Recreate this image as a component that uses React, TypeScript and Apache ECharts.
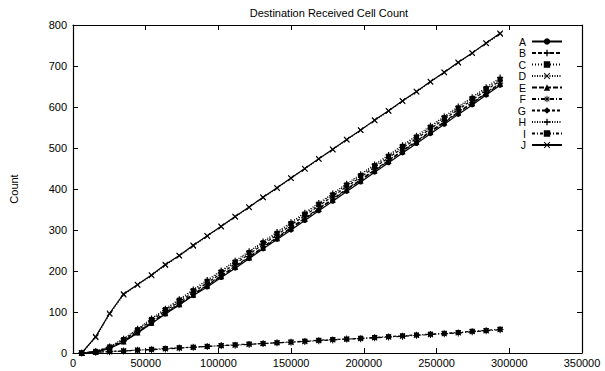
import React, { useEffect, useRef } from "react";
import * as echarts from "echarts";

const times = [6000, 15600, 25200, 34800, 44400, 54000, 63500, 73100, 82700, 92300, 101900, 111500, 121100, 130700, 140300, 149900, 159400, 169000, 178600, 188200, 197800, 207400, 217000, 226600, 236200, 245800, 255300, 264900, 274500, 284100, 293700];

const seriesA = [0, 2, 11, 27, 49, 72, 95, 117, 140, 161, 184, 207, 230, 254, 277, 300, 323, 347, 370, 394, 417, 441, 464, 488, 511, 535, 558, 582, 605, 629, 653];
const seriesB = [0, 3, 12, 29, 51, 75, 99, 121, 144, 166, 189, 212, 235, 259, 282, 306, 329, 353, 376, 400, 423, 447, 470, 494, 517, 541, 564, 588, 611, 635, 658];
const seriesC = [0, 4, 15, 33, 57, 82, 106, 129, 152, 175, 198, 222, 245, 269, 292, 316, 339, 363, 386, 410, 433, 457, 480, 504, 527, 551, 574, 598, 621, 645, 668];
const seriesD = [0, 38, 95, 142, 166, 189, 214, 237, 261, 285, 308, 332, 355, 379, 402, 426, 449, 473, 496, 520, 543, 567, 590, 614, 637, 661, 684, 708, 731, 755, 778];
const seriesE = [0, 3, 12, 28, 50, 74, 97, 119, 142, 164, 187, 210, 233, 257, 280, 304, 327, 351, 374, 398, 421, 445, 468, 492, 515, 539, 562, 586, 609, 633, 656];
const seriesF = [0, 2, 3, 5, 7, 8, 10, 12, 14, 16, 18, 19, 21, 23, 25, 26, 28, 30, 32, 34, 35, 37, 39, 41, 43, 45, 47, 49, 52, 54, 57];
const seriesG = [0, 3, 14, 31, 55, 79, 103, 125, 148, 171, 194, 218, 241, 265, 288, 312, 335, 359, 382, 406, 429, 453, 476, 500, 523, 547, 570, 594, 617, 641, 664];
const seriesH = [0, 4, 16, 35, 59, 84, 108, 131, 155, 178, 201, 225, 248, 272, 295, 319, 342, 366, 389, 413, 436, 460, 483, 507, 530, 554, 577, 601, 624, 648, 672];
const seriesI = [0, 2, 4, 5, 7, 9, 11, 13, 14, 16, 18, 20, 22, 23, 25, 27, 29, 31, 33, 34, 36, 38, 40, 42, 44, 46, 48, 50, 53, 55, 58];
const seriesJ = [0, 40, 97, 144, 167, 190, 216, 238, 263, 286, 309, 333, 356, 380, 403, 427, 450, 474, 497, 521, 544, 568, 591, 615, 638, 662, 685, 709, 732, 756, 780];

const names = ["A", "B", "C", "D", "E", "F", "G", "H", "I", "J"];
const values = [seriesA, seriesB, seriesC, seriesD, seriesE, seriesF, seriesG, seriesH, seriesI, seriesJ];

const PLUS = "path://M4 0H6V4H10V6H6V10H4V6H0V4H4Z";
const CROSS = "path://M1 0L5 4L9 0L10 1L6 5L10 9L9 10L5 6L1 10L0 9L4 5L0 1Z";
const STAR = "path://M4.3 0H5.7V3.3L8.1 0.9L9.1 1.9L6.7 4.3H10V5.7H6.7L9.1 8.1L8.1 9.1L5.7 6.7V10H4.3V6.7L1.9 9.1L0.9 8.1L3.3 5.7H0V4.3H3.3L0.9 1.9L1.9 0.9L4.3 3.3Z";

const styles: { symbol: string; size: number; dash: any }[] = [
  { symbol: "circle", size: 5, dash: "solid" },
  { symbol: PLUS, size: 6, dash: [4, 2] },
  { symbol: "rect", size: 5, dash: [1, 2] },
  { symbol: CROSS, size: 6, dash: [1, 1.5] },
  { symbol: "triangle", size: 6, dash: [5, 2] },
  { symbol: STAR, size: 7, dash: [4, 2, 1, 2] },
  { symbol: "diamond", size: 6, dash: [3, 2] },
  { symbol: PLUS, size: 6, dash: [1, 1.5] },
  { symbol: "rect", size: 5, dash: [3, 2, 1, 2] },
  { symbol: CROSS, size: 6, dash: "solid" },
];

const FONT = "Liberation Sans";

export default function App() {
  const ref = useRef<HTMLDivElement>(null);
  useEffect(() => {
    if (!ref.current) return;
    const chart = echarts.init(ref.current, null, { renderer: "svg" });
    const axisCommon = {
      axisLine: { show: true, onZero: false, lineStyle: { color: "#000", width: 1.2 } },
      axisTick: { show: true, inside: true, length: 5, lineStyle: { color: "#000" } },
      splitLine: { show: false },
    };
    chart.setOption({
      animation: false,
      backgroundColor: "#fff",
      graphic: [
        {
          type: "text",
          x: 329,
          y: 13,
          style: {
            text: "Destination Received Cell Count",
            fill: "#000",
            font: `11px ${FONT}`,
            textAlign: "center",
            textVerticalAlign: "middle",
          },
        },
      ],
      grid: { left: 73, right: 23, top: 25, bottom: 18, outerBoundsMode: "none", containLabel: false },
      legend: {
        orient: "vertical",
        right: 42,
        top: 36,
        align: "right",
        padding: 0,
        itemWidth: 30,
        itemHeight: 8,
        itemGap: 0.5,
        textStyle: { color: "#000", fontFamily: FONT, fontSize: 10.5, lineHeight: 9.5, padding: [0, 1, 0, 0] },
        data: names,
      },
      xAxis: [
        {
          type: "value",
          min: 0,
          max: 350000,
          interval: 50000,
          name: "Time (Min. Cell. Time)",
          nameLocation: "middle",
          nameGap: 21,
          nameTextStyle: { color: "#000", fontFamily: FONT, fontSize: 11 },
          axisLabel: { color: "#000", fontFamily: FONT, fontSize: 11, margin: 4, formatter: (v: number) => String(v) },
          ...axisCommon,
        },
        {
          type: "value",
          position: "top",
          min: 0,
          max: 350000,
          interval: 50000,
          axisLabel: { show: false },
          ...axisCommon,
        },
      ],
      yAxis: [
        {
          type: "value",
          min: 0,
          max: 800,
          interval: 100,
          name: "Count",
          nameLocation: "middle",
          nameGap: 54,
          nameTextStyle: { color: "#000", fontFamily: FONT, fontSize: 11 },
          axisLabel: { color: "#000", fontFamily: FONT, fontSize: 11, margin: 6 },
          ...axisCommon,
        },
        {
          type: "value",
          position: "right",
          min: 0,
          max: 800,
          interval: 100,
          axisLabel: { show: false },
          ...axisCommon,
        },
      ],
      series: names.map((n, k) => ({
        name: n,
        type: "line",
        data: times.map((t, i) => [t, values[k][i]]),
        symbol: styles[k].symbol,
        symbolSize: styles[k].size,
        showAllSymbol: true,
        itemStyle: { color: "#000" },
        lineStyle: { color: "#000", width: 1.2, type: styles[k].dash },
        emphasis: { disabled: true },
      })),
    });
    return () => chart.dispose();
  }, []);
  return <div ref={ref} style={{ width: 605, height: 371, position: "absolute", left: 0, top: 0 }} />;
}
